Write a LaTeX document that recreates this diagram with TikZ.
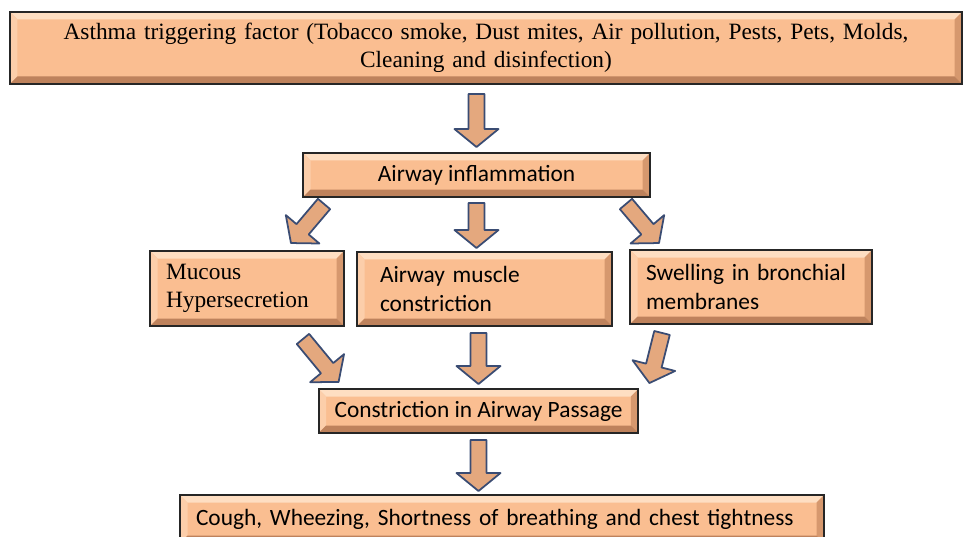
\documentclass[tikz,border=0pt]{standalone}
\usepackage{fontspec}
\setmainfont{Liberation Serif}
\newfontfamily\calibri{Carlito}
\usetikzlibrary{calc}
\definecolor{boxfill}{RGB}{250,190,145}
\definecolor{boxtop}{RGB}{254,222,194}
\definecolor{boxleft}{RGB}{252,206,170}
\definecolor{boxright}{RGB}{214,152,110}
\definecolor{boxbottom}{RGB}{190,130,92}
\definecolor{arrowfill}{RGB}{228,168,126}
\definecolor{arrowline}{RGB}{58,76,115}
\newcommand{\bevw}{0.15cm}
\newcommand{\blockarrow}[2]{%
  \coordinate (ah) at ($(#2)!0.36cm!(#1)$);
  \filldraw[arrowbody]
    ($(#1)!0.16cm!90:(#2)$) -- ($(ah)!0.16cm!90:(#2)$) -- ($(ah)!0.44cm!90:(#2)$)
    -- (#2) -- ($(ah)!0.44cm!-90:(#2)$) -- ($(ah)!0.16cm!-90:(#2)$)
    -- ($(#1)!0.16cm!-90:(#2)$) -- cycle;}

\begin{document}
\begin{tikzpicture}[
    box/.style={draw=black!85, line width=1.1pt, fill=boxfill, inner xsep=0.32cm,
      font=\fontsize{13.3}{16}\selectfont, path picture={
        \fill[boxtop] (path picture bounding box.north west) -- (path picture bounding box.north east)
          -- ++(-\bevw,-\bevw) -- ($(path picture bounding box.north west)+(\bevw,-\bevw)$) -- cycle;
        \fill[boxleft] (path picture bounding box.north west) -- (path picture bounding box.south west)
          -- ++(\bevw,\bevw) -- ($(path picture bounding box.north west)+(\bevw,-\bevw)$) -- cycle;
        \fill[boxright] (path picture bounding box.north east) -- (path picture bounding box.south east)
          -- ++(-\bevw,\bevw) -- ($(path picture bounding box.north east)+(-\bevw,-\bevw)$) -- cycle;
        \fill[boxbottom] (path picture bounding box.south west) -- (path picture bounding box.south east)
          -- ++(-\bevw,\bevw) -- ($(path picture bounding box.south west)+(\bevw,\bevw)$) -- cycle;
      }},
    sans/.style={font=\calibri\fontsize{13.3}{16}\selectfont},
    arrowbody/.style={fill=arrowfill, draw=arrowline, line width=1pt, line join=round}
  ]
  \useasboundingbox (0,0) rectangle (19.36,-10.74);

  % Boxes
  \node[box, minimum width=19.04cm, minimum height=1.44cm, text width=18.4cm, align=center]
    (trig) at (9.72,-0.96)
    {Asthma triggering factor (Tobacco smoke, Dust mites, Air pollution, Pests, Pets, Molds,\\
     Cleaning and disinfection)};
  \node[box, sans, minimum width=6.94cm, minimum height=0.88cm] (infl) at (9.53,-3.5)
    {Airway inflammation};
  \node[box, minimum height=1.5cm, text width=3.24cm, align=left] (mucus) at (4.94,-5.77)
    {Mucous\\Hypersecretion};
  \node[box, sans, minimum height=1.48cm, inner xsep=0.46cm, text width=4.18cm, align=left]
    (muscle) at (9.69,-5.78) {Airway muscle\\constriction};
  \node[box, sans, minimum height=1.48cm, text width=4.2cm, align=left] (swell) at (15.02,-5.74)
    {Swelling in bronchial\\membranes};
  \node[box, sans, minimum width=6.34cm, minimum height=0.88cm] (passage) at (9.57,-8.22)
    {Constriction in Airway Passage};
  \node[box, sans, minimum height=0.96cm, text width=12.24cm, align=left] (symptoms) at (10.04,-10.38)
    {Cough, Wheezing, Shortness of breathing and chest tightness};

  % Arrow ends
  \coordinate (a1s) at ($(infl.north |- trig.south)+(0,-0.18)$);
  \coordinate (a1e) at ($(infl.north)+(0,0.1)$);
  \coordinate (a2s) at ($(infl.south west)+(0.44,-0.12)$);
  \coordinate (a2e) at ($(mucus.north east)+(-1.08,0.14)$);
  \coordinate (a3s) at ($(infl.south)+(0,-0.1)$);
  \coordinate (a3e) at ($(infl.south |- muscle.north)+(0,0.06)$);
  \coordinate (a4s) at ($(infl.south east)+(-0.5,-0.12)$);
  \coordinate (a4e) at ($(swell.north west)+(0.6,0.12)$);
  \coordinate (a5s) at ($(mucus.south east)+(-0.84,-0.24)$);
  \coordinate (a5e) at ($(passage.north west)+(0.42,0.12)$);
  \coordinate (a6s) at ($(passage.north |- muscle.south)+(0,-0.12)$);
  \coordinate (a6e) at ($(passage.north)+(0,0.08)$);
  \coordinate (a7s) at ($(swell.south west)+(0.66,-0.16)$);
  \coordinate (a7e) at ($(passage.north east)+(0.2,0.1)$);
  \coordinate (a8s) at ($(passage.south)+(0,-0.12)$);
  \coordinate (a8e) at ($(passage.south |- symptoms.north)+(0,0.06)$);

  % Arrows
  \blockarrow{a1s}{a1e}
  \blockarrow{a2s}{a2e}
  \blockarrow{a3s}{a3e}
  \blockarrow{a4s}{a4e}
  \blockarrow{a5s}{a5e}
  \blockarrow{a6s}{a6e}
  \blockarrow{a7s}{a7e}
  \blockarrow{a8s}{a8e}
\end{tikzpicture}
\end{document}
